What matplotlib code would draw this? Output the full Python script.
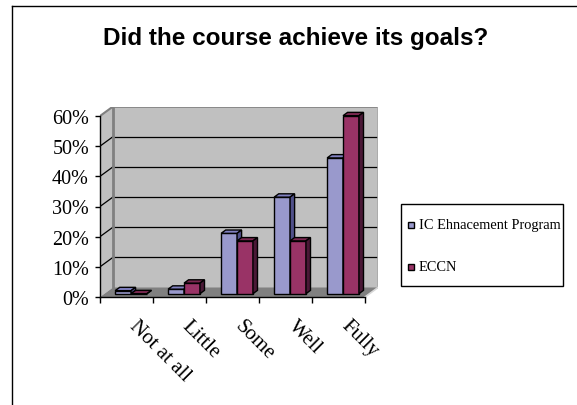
import matplotlib
matplotlib.use("Agg")
import matplotlib.pyplot as plt
from matplotlib.patches import Polygon, Rectangle
from matplotlib.lines import Line2D
from matplotlib.transforms import ScaledTranslation

# ---- data ----
categories = ["Not at all", "Little", "Some", "Well", "Fully"]
ic_program = [1.0, 1.5, 20.0, 32.0, 45.0]
eccn = [0.0, 3.5, 17.5, 17.5, 59.0]
series_names = ["IC Ehnacement Program", "ECCN"]
y_ticks = [0, 10, 20, 30, 40, 50, 60]
y_tick_labels = ["0%", "10%", "20%", "30%", "40%", "50%", "60%"]
title = "Did the course achieve its goals?"

# ---- style ----
W, H = 577, 406
DPI = 100
PX = 72.0 / DPI
serif = ["Liberation Serif", "DejaVu Serif"]
sans = ["Liberation Sans", "DejaVu Sans"]

front = {"ic": "#9999CC", "eccn": "#993366"}
top = {"ic": "#8080C0", "eccn": "#7A2850"}
side = {"ic": "#50508A", "eccn": "#4A1836"}

fig = plt.figure(figsize=(W / DPI, H / DPI), dpi=DPI)
fig.patch.set_facecolor("white")

def fx(px):
    return px / W

def fy(py):
    return 1 - py / H

# frame lines
fig.add_artist(Line2D([fx(12), fx(12)], [fy(7), 0], color="black", lw=1.0, transform=fig.transFigure))
fig.add_artist(Line2D([fx(12), 1], [fy(7), fy(7)], color="black", lw=1.0, transform=fig.transFigure))

fig.text(fx(296), fy(38), title, ha="center", va="center", fontsize=17.5,
         fontweight="bold", family=sans)

# projection geometry (front plot 100..365 px wide, 0..60% = 298..117 px)
n = len(categories)
cat_px = 265.0 / n
pct_px = 181.0 / 60.0
DX = 13.0 / cat_px
DY = 9.5 / pct_px

ax = fig.add_axes([fx(100), fy(298), (265 + 13) / W, (181 + 9.5) / H])
ax.set_xlim(0, n + DX)
ax.set_ylim(0, 60 + DY)
ax.patch.set_visible(False)

wall = "#C0C0C0"
floor_c = "#808080"
edge_c = "#808080"

ax.add_patch(Polygon([(0, 0), (0, 60), (DX, 60 + DY), (DX, DY)], closed=True,
                     facecolor=wall, edgecolor="none", zorder=1))
ax.add_patch(Polygon([(DX, DY), (n + DX, DY), (n + DX, 60 + DY), (DX, 60 + DY)], closed=True,
                     facecolor=wall, edgecolor="none", zorder=1))
ax.add_patch(Polygon([(0, 0), (n, 0), (n + DX, DY), (DX, DY)], closed=True,
                     facecolor=floor_c, edgecolor="none", zorder=1))

for v in y_ticks[1:-1]:
    ax.plot([DX, n + DX], [v + DY, v + DY], color="black", lw=0.9, zorder=2)
    ax.plot([0, DX], [v, v + DY], color="black", lw=0.9, zorder=2)

ax.plot([DX, DX], [DY, 60 + DY], color=edge_c, lw=2.0, zorder=2, solid_capstyle="butt")
ax.plot([0, DX], [60, 60 + DY], color=edge_c, lw=1.5, zorder=2)
ax.plot([DX, n + DX], [60 + DY, 60 + DY], color=edge_c, lw=1.2, zorder=2)
ax.plot([n + DX, n + DX], [DY, 60 + DY], color="#A8A8A8", lw=1.2, zorder=2)
ax.plot([n, n + DX], [0, DY], color="#D8D8D8", lw=1.2, zorder=2)

# bars
f0, f1 = 0.35, 0.70
bw = 0.30

def draw_bar(x, v, key):
    ox0, oy0 = f0 * DX, f0 * DY
    ox1, oy1 = f1 * DX, f1 * DY
    kw = dict(closed=True, edgecolor="black", lw=1.0, zorder=3, joinstyle="miter")
    ax.add_patch(Polygon([(x + ox0, oy0), (x + bw + ox0, oy0), (x + bw + ox0, v + oy0), (x + ox0, v + oy0)],
                         facecolor=front[key], **kw))
    ax.add_patch(Polygon([(x + ox0, v + oy0), (x + bw + ox0, v + oy0), (x + bw + ox1, v + oy1), (x + ox1, v + oy1)],
                         facecolor=top[key], **kw))
    ax.add_patch(Polygon([(x + bw + ox0, oy0), (x + bw + ox1, oy1), (x + bw + ox1, v + oy1), (x + bw + ox0, v + oy0)],
                         facecolor=side[key], **kw))

for i in range(n):
    c = i + 0.5
    draw_bar(c - bw, ic_program[i], "ic")
    draw_bar(c, eccn[i], "eccn")

# axes spines / ticks
for s in ["top", "right"]:
    ax.spines[s].set_visible(False)
ax.spines["left"].set_bounds(0, 60)
ax.spines["bottom"].set_bounds(0, n)
for s in ["left", "bottom"]:
    ax.spines[s].set_linewidth(1.0)
    ax.spines[s].set_zorder(4)

ax.set_yticks(y_ticks)
ax.set_yticklabels(y_tick_labels, family=serif, fontsize=14.5)
ax.tick_params(axis="y", direction="out", length=5 * PX, width=1.0, pad=6 * PX)

ax.set_xticks(range(n + 1))
ax.set_xticklabels([])
ax.tick_params(axis="x", which="major", direction="out", length=6 * PX, width=1.0)

# rotated category labels
lab_tr = ax.transData + ScaledTranslation(12 / DPI, -19 / DPI, fig.dpi_scale_trans)
for i, name in enumerate(categories):
    ax.text(i + 0.5, 0, name, transform=lab_tr, rotation=-45, rotation_mode="anchor",
            ha="left", va="top", family=serif, fontsize=15, clip_on=False)

# legend (drawn as a framed box with swatches)
fig.add_artist(Rectangle((fx(401), fy(287)), 162 / W, 82 / H, transform=fig.transFigure,
                         facecolor="white", edgecolor="black", lw=1.0))
legend_y = [226, 268]
legend_keys = ["ic", "eccn"]
for yy, key, name in zip(legend_y, legend_keys, series_names):
    fig.add_artist(Rectangle((fx(408), fy(yy + 3)), 6 / W, 6 / H, transform=fig.transFigure,
                             facecolor=front[key], edgecolor="black", lw=1.0))
    fig.text(fx(419), fy(yy), name, ha="left", va="center", family=serif, fontsize=10.4)

fig.savefig("out.png", dpi=DPI)
